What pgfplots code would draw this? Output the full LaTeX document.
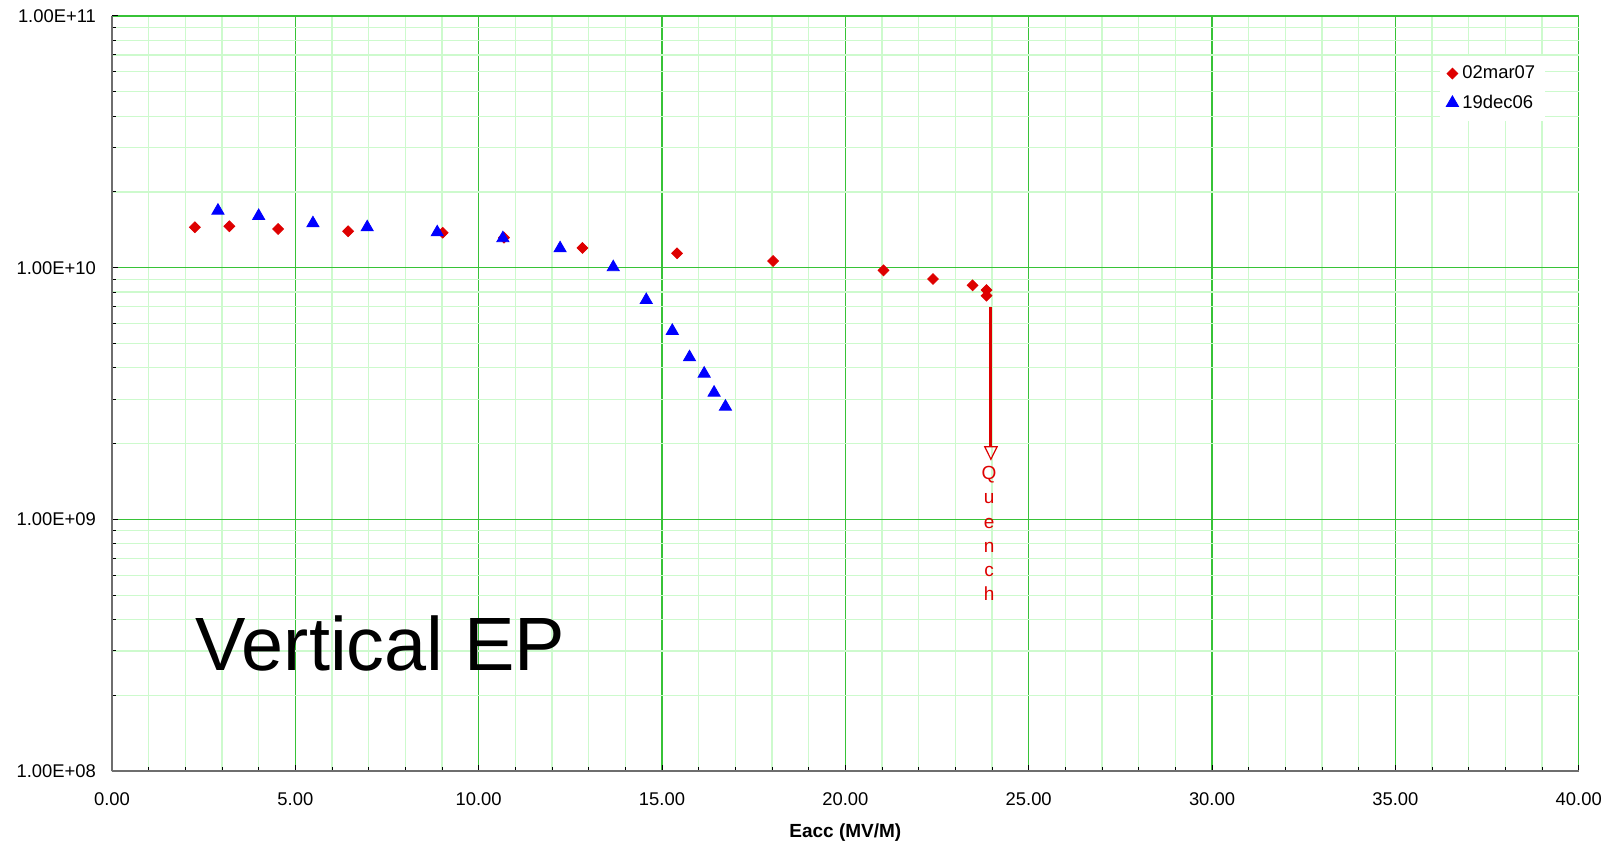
\documentclass[border=0pt]{standalone}
\usepackage{fontspec}
\setmainfont{Liberation Sans}
\usepackage{pgfplots}
\pgfplotsset{compat=1.18}
\usetikzlibrary{arrows.meta}
\definecolor{majgrid}{RGB}{55,195,55}
\definecolor{mingrid}{RGB}{205,250,205}
\definecolor{myred}{RGB}{222,0,0}
\definecolor{myblue}{RGB}{0,0,255}
\definecolor{axgray}{RGB}{110,110,110}
\begin{document}
\begin{tikzpicture}
\begin{axis}[
  scale only axis,
  width=733.35pt, height=377.55pt,
  xmin=0, xmax=40, ymin=1e8, ymax=1e11,
  ymode=log,
  axis x line*=bottom, axis y line*=left,
  axis line style={-, axgray, line width=1pt},
  xtick={0,5,...,40},
  xticklabels={0.00,5.00,10.00,15.00,20.00,25.00,30.00,35.00,40.00},
  minor x tick num=4,
  ytick={1e8,1e9,1e10,1e11},
  yticklabels={1.00E+08,1.00E+09,1.00E+10,1.00E+11},
  tick align=inside,
  major tick length=3pt, minor tick length=2pt,
  tick style={black, line width=0.5pt},
  grid=both,
  major grid style={majgrid, line width=0.6pt},
  minor grid style={mingrid, line width=0.6pt},
  ticklabel style={font=\fontsize{9.2}{11}\selectfont},
  xticklabel style={anchor=center, yshift=-14.1pt},
  yticklabel style={xshift=-4.5pt},
  xlabel={\textbf{Eacc (MV/M)}},
  xlabel style={at={(axis description cs:0.5,0)}, anchor=center, yshift=-31pt, font=\fontsize{9.5}{11}\selectfont},
  legend style={at={(0.9054,0.948)}, anchor=north west, draw=none, fill=white,
    font=\fontsize{9.2}{11}\selectfont, row sep=2.6pt, inner sep=3pt},
  legend cell align=left,
  legend image code/.code={\draw[mark repeat=2,mark phase=2,#1] plot coordinates {(0cm,0cm) (0.1cm,0cm) (0.2cm,0cm)};},
  clip=false,
]
\addplot[only marks, mark=square*, mark size=1.9pt, mark options={rotate=45, myred, fill=myred}, color=myred]
coordinates {
(2.26,1.447e10) (3.20,1.461e10) (4.53,1.425e10) (6.44,1.395e10) (9.02,1.377e10)
(10.69,1.316e10) (12.83,1.198e10) (15.41,1.141e10) (18.03,1.063e10) (21.04,9.76e9)
(22.39,9.02e9) (23.47,8.51e9) (23.85,8.15e9) (23.85,7.74e9)
};
\addlegendentry{02mar07}
\addplot[only marks, mark=triangle*, mark size=3.5pt, mark options={myblue, fill=myblue}, color=myblue]
coordinates {
(2.89,1.685e10) (4.00,1.605e10) (5.48,1.501e10) (6.96,1.447e10) (8.87,1.382e10)
(10.66,1.309e10) (12.22,1.194e10) (13.67,1.004e10) (14.57,7.44e9) (15.28,5.61e9)
(15.75,4.406e9) (16.15,3.793e9) (16.42,3.187e9) (16.73,2.804e9)
};
\addlegendentry{19dec06}
\draw[myred, line width=1.5pt, -{Triangle[open, length=7.3pt, width=7pt, line width=0.6pt]}]
  (axis cs:23.97,7.0e9) -- (axis cs:23.97,1.711e9);
\node[text=myred, anchor=north, inner sep=0pt, align=center, font=\fontsize{9.5}{12.1}\selectfont]
  at (axis cs:23.92,1.63e9) {Q\\u\\e\\n\\c\\h};
\node[anchor=base west, inner sep=0pt, font=\fontsize{37.8}{40}\selectfont]
  at (axis cs:2.27,2.52e8) {Vertical EP};
\end{axis}
\pgfresetboundingbox
\path[use as bounding box] (-56pt,-37.45pt) rectangle (749.5pt,385.55pt);
\end{tikzpicture}
\end{document}
